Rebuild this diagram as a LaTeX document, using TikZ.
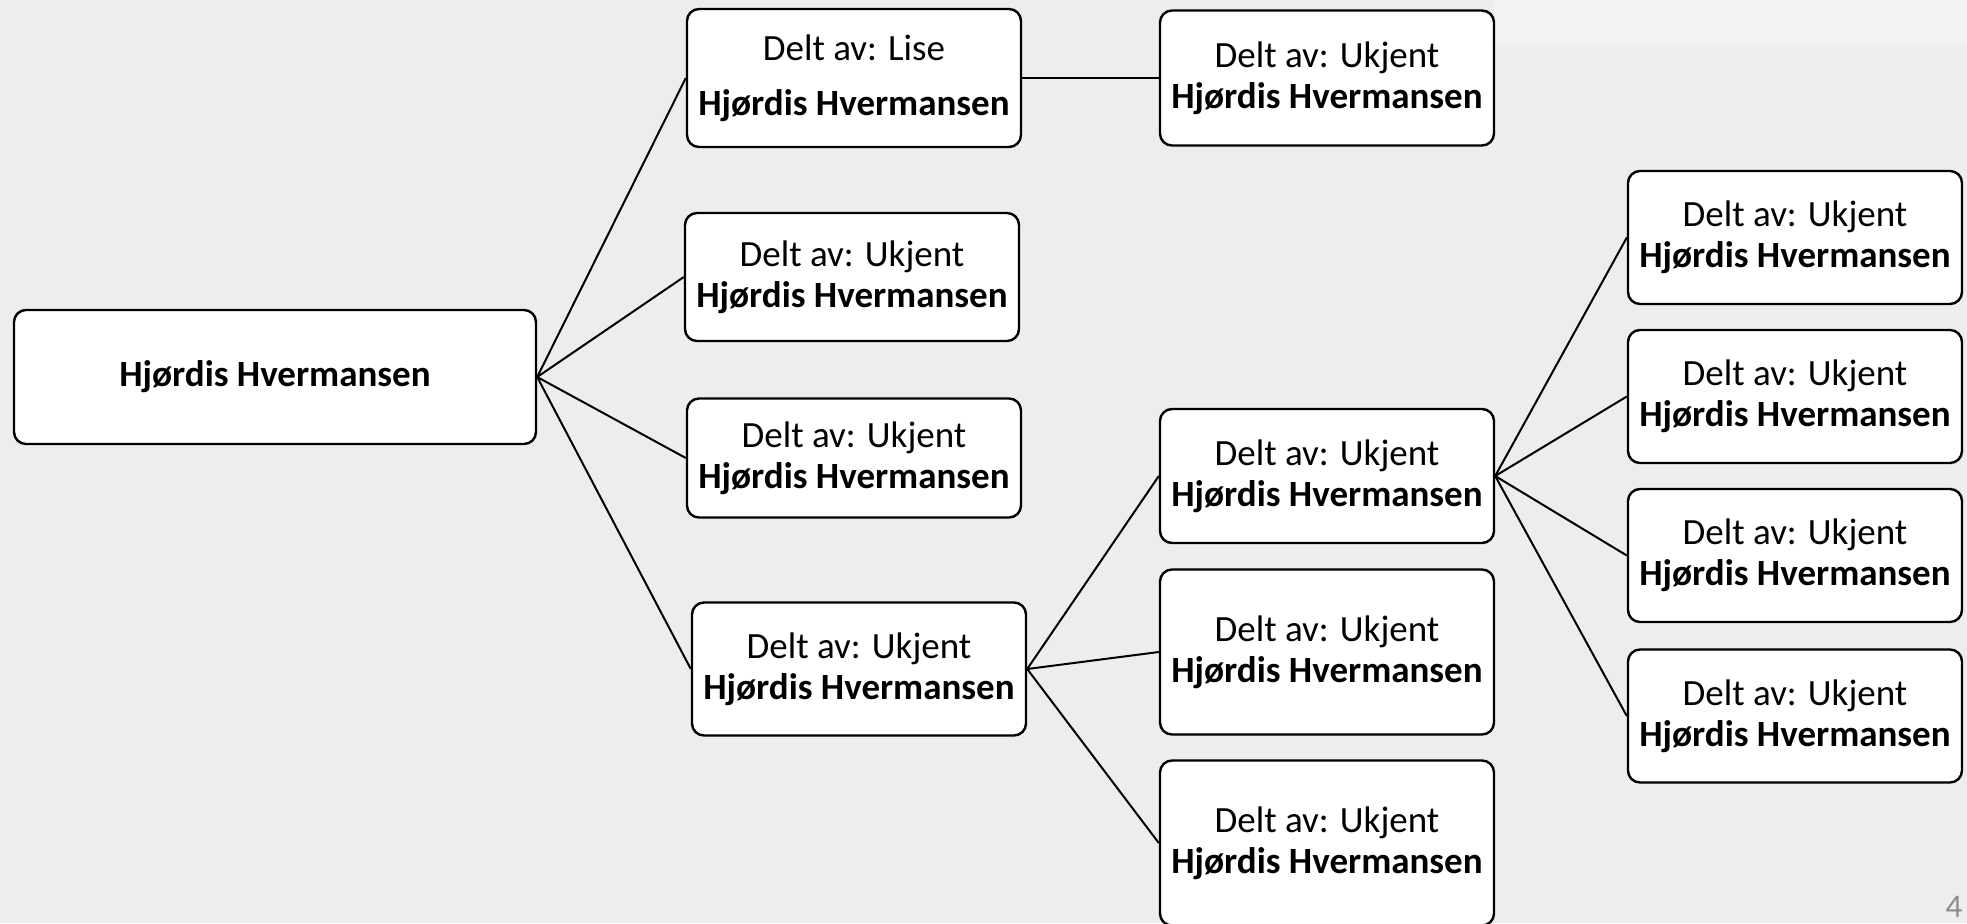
\documentclass[tikz,border=0pt]{standalone}
\usepackage{fontspec}
\setmainfont{Carlito}
\usepackage{tikz}
\definecolor{slidegrey}{HTML}{EDEDED}
\definecolor{stripgrey}{HTML}{F2F2F2}
\definecolor{pagegrey}{HTML}{8C8C8C}

\begin{document}
\begin{tikzpicture}[x=0.5pt, y=-0.5pt,
  box/.style={draw, fill=white, rounded corners=6pt, line width=1.2pt, align=center,
    minimum width=167pt, inner sep=0pt, font=\fontsize{18.5}{20.5}\selectfont},
  link/.style={line width=1pt}]
\fill[slidegrey] (0,0) rectangle (1967,923);
\fill[stripgrey] (1494,0) rectangle (1967,47);
\useasboundingbox (0,0) rectangle (1967,923);
\node  (1)[box, minimum width=261pt, minimum height=67pt] at (275,377) {\textbf{Hjørdis Hvermansen}};
\node  (2)[box, minimum height=69pt]   at (854,78)  {Delt av: Lise\\[7pt]\textbf{Hjørdis Hvermansen}};
\node  (3)[box, minimum height=64pt]   at (852,277) {Delt av: Ukjent\\\textbf{Hjørdis Hvermansen}};
\node  (4)[box, minimum height=59.5pt] at (854,458) {Delt av: Ukjent\\\textbf{Hjørdis Hvermansen}};
\node  (5)[box, minimum height=66.5pt] at (859,669) {Delt av: Ukjent\\\textbf{Hjørdis Hvermansen}};
\node  (6)[box, minimum height=67.5pt] at (1327,78)  {Delt av: Ukjent\\\textbf{Hjørdis Hvermansen}};
\node  (7)[box, minimum height=67pt]   at (1327,476) {Delt av: Ukjent\\\textbf{Hjørdis Hvermansen}};
\node  (8)[box, minimum height=82.5pt] at (1327,652) {Delt av: Ukjent\\\textbf{Hjørdis Hvermansen}};
\node  (9)[box, minimum height=82.5pt] at (1327,843) {Delt av: Ukjent\\\textbf{Hjørdis Hvermansen}};
\node (10)[box, minimum height=66.5pt] at (1795,237.5) {Delt av: Ukjent\\\textbf{Hjørdis Hvermansen}};
\node (11)[box, minimum height=66.5pt] at (1795,396.5) {Delt av: Ukjent\\\textbf{Hjørdis Hvermansen}};
\node (12)[box, minimum height=66.5pt] at (1795,555.5) {Delt av: Ukjent\\\textbf{Hjørdis Hvermansen}};
\node (13)[box, minimum height=66.5pt] at (1795,716)   {Delt av: Ukjent\\\textbf{Hjørdis Hvermansen}};
\node  (p)[text=pagegrey, inner sep=0pt, font=\fontsize{16.5}{16.5}\selectfont] at (1954,907) {4};
\draw[link] (1.east) -- (2.west);
\draw[link] (1.east) -- (3.west);
\draw[link] (1.east) -- (4.west);
\draw[link] (1.east) -- (5.west);
\draw[link] (2.east) -- (6.west);
\draw[link] (5.east) -- (7.west);
\draw[link] (5.east) -- (8.west);
\draw[link] (5.east) -- (9.west);
\draw[link] (7.east) -- (10.west);
\draw[link] (7.east) -- (11.west);
\draw[link] (7.east) -- (12.west);
\draw[link] (7.east) -- (13.west);
\end{tikzpicture}
\end{document}
